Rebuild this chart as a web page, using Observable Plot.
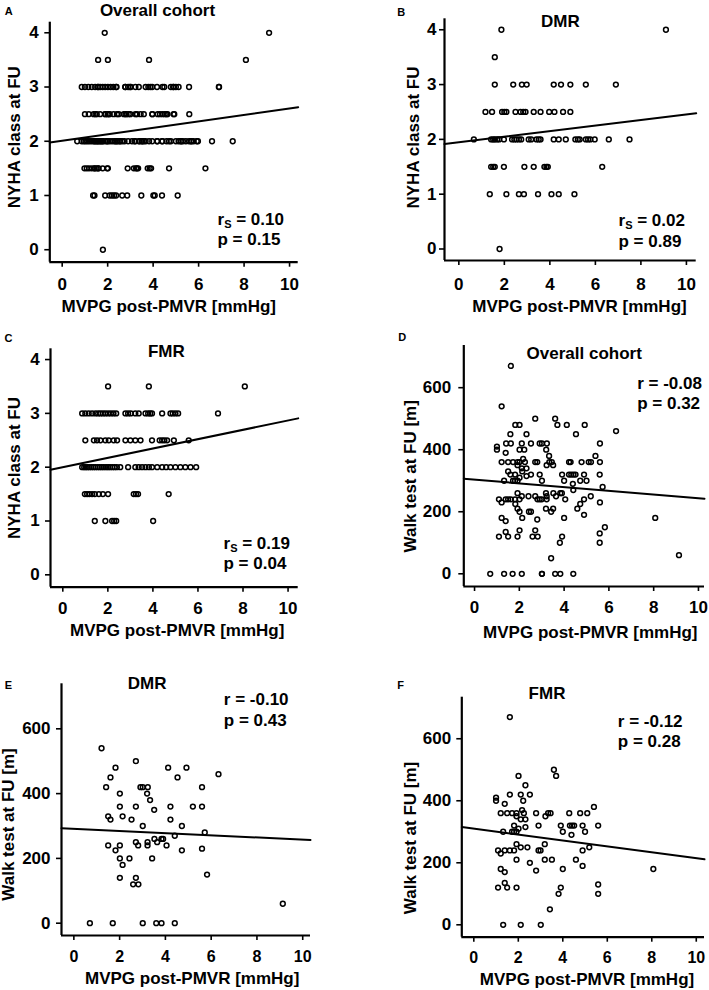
<!DOCTYPE html>
<html><head><meta charset="utf-8">
<script src="https://cdn.jsdelivr.net/npm/d3@7"></script>
<script src="https://cdn.jsdelivr.net/npm/@observablehq/plot@0.6"></script>
<style>
html,body{margin:0;padding:0;background:#fff;}
#page{position:relative;width:709px;height:990px;overflow:hidden;background:#fff;}
#page svg{position:absolute;overflow:visible;}
</style></head><body><div id="page"></div>
<script>
// ---------- DATA ----------
const xTicks = [0, 2, 4, 6, 8, 10];
const nyhaTicks = [0, 1, 2, 3, 4];
const walkTicks = [0, 200, 400, 600];
const panelLetters = ["A", "B", "C", "D", "E", "F"];
const panelTitles = ["Overall cohort", "DMR", "FMR", "Overall cohort", "DMR", "FMR"];
const xAxisLabel = "MVPG post-PMVR [mmHg]";
const yAxisLabels = ["NYHA class at FU", "NYHA class at FU", "NYHA class at FU", "Walk test at FU [m]", "Walk test at FU [m]", "Walk test at FU [m]"];
const statLines1 = ["rS = 0.10", "rS = 0.02", "rS = 0.19", "r = -0.08", "r = -0.10", "r = -0.12"];
const statLines2 = ["p = 0.15", "p = 0.89", "p = 0.04", "p = 0.32", "p = 0.43", "p = 0.28"];
// fitted regression lines [intercept, slope]
const fitIntercepts = [2.01, 1.946, 2.0, 303.5, 291.3, 310];
const fitSlopes = [0.0595, 0.051, 0.0868, -5.98, -3.32, -9.53];

// DMR: [MVPG, NYHA class]
const dmrNyha = [
 [1.87,4],[9.1,4],
 [1.58,3.5],
 [1.58,3],[2.39,3],[2.77,3],[2.98,3],[4.17,3],[4.49,3],[4.9,3],[5.58,3],[6.9,3],
 [1.17,2.5],[1.46,2.5],[1.9,2.5],[2.0,2.5],[2.09,2.5],[2.49,2.5],[2.71,2.5],[2.83,2.5],[2.93,2.5],[3.29,2.5],[3.59,2.5],[3.97,2.5],[4.2,2.5],[4.58,2.5],[4.9,2.5],
 [0.66,2],[1.42,2],[1.51,2],[1.58,2],[1.68,2],[1.77,2],[1.98,2],[2.34,2],[2.44,2],[2.53,2],[2.64,2],[2.74,2],[3.07,2],[3.18,2],[3.41,2],[3.51,2],[3.59,2],[4.17,2],[4.39,2],[4.7,2],[5.12,2],[5.23,2],[5.31,2],[5.58,2],[5.68,2],[5.78,2],[5.97,2],[6.59,2],[7.5,2],
 [1.42,1.5],[1.51,1.5],[1.58,1.5],[1.98,1.5],[2.88,1.5],[3.29,1.5],[3.76,1.5],[3.85,1.5],[3.91,1.5],[6.3,1.5],
 [1.36,1],[2.09,1],[2.64,1],[2.86,1],[3.48,1],[4.07,1],[4.39,1],[5.08,1],
 [1.79,0]
];
// FMR: [MVPG, NYHA class]
const fmrNyha = [
 [2.01,3.5],[3.82,3.5],[8.08,3.5],
 [0.86,3],[1.0,3],[1.15,3],[1.3,3],[1.45,3],[1.57,3],[1.67,3],[1.78,3],[1.89,3],[2.01,3],[2.13,3],[2.25,3],[2.37,3],[2.78,3],[2.9,3],[3.02,3],[3.22,3],[3.37,3],[3.67,3],[3.79,3],[3.88,3],[3.96,3],[4.41,3],[4.78,3],[4.88,3],[5.0,3],[5.12,3],[6.89,3],
 [1.0,2.5],[1.38,2.5],[1.52,2.5],[1.67,2.5],[1.89,2.5],[2.04,2.5],[2.26,2.5],[2.41,2.5],[2.78,2.5],[3.0,2.5],[3.22,2.5],[3.45,2.5],[3.96,2.5],[4.3,2.5],[4.41,2.5],[4.51,2.5],[4.63,2.5],[4.93,2.5],[5.59,2.5],
 [0.86,2],[0.95,2],[1.02,2],[1.1,2],[1.18,2],[1.27,2],[1.36,2],[1.45,2],[1.55,2],[1.64,2],[1.73,2],[1.82,2],[1.92,2],[2.01,2],[2.1,2],[2.2,2],[2.3,2],[2.4,2],[2.55,2],[2.9,2],[3.22,2],[3.37,2],[3.52,2],[3.67,2],[3.82,2],[3.96,2],[4.19,2],[4.41,2],[4.59,2],[4.78,2],[5.0,2],[5.22,2],[5.44,2],[5.67,2],[5.92,2],
 [0.98,1.5],[1.08,1.5],[1.18,1.5],[1.3,1.5],[1.42,1.5],[1.6,1.5],[1.78,1.5],[2.01,1.5],[3.15,1.5],[3.25,1.5],[3.34,1.5],[4.7,1.5],
 [1.42,1],[1.89,1],[2.19,1],[2.28,1],[2.37,1],[4.01,1]
];
// DMR: [MVPG, walk test m]
const dmrWalk = [
 [1.21,540],[2.71,500],[1.82,480],[1.60,450],[4.12,480],[4.92,480],[4.53,450],[6.32,460],[1.41,420],[2.91,420],[3.01,420],[3.23,420],
 [3.20,400],[2.01,400],[3.33,380],[5.60,420],[2.01,360],[2.71,360],[4.22,360],[5.20,360],[5.60,360],[3.51,350],[1.50,330],[1.60,320],
 [2.13,330],[2.52,320],[4.22,320],[3.01,300],[4.72,300],[5.72,280],[3.52,260],[3.64,250],[3.83,260],[3.90,260],[4.41,270],[2.71,250],
 [2.81,240],[3.22,250],[3.22,240],[4.05,240],[1.50,240],[2.01,240],[1.82,225],[4.72,225],[5.60,230],[2.01,200],[2.43,200],[3.42,200],
 [2.13,180],[5.82,150],[2.01,140],[2.71,140],[2.59,120],[2.82,120],[9.13,60],[0.70,0],[1.70,0],[3.01,0],[3.60,0],[3.83,0],[4.41,0]
];
// FMR: [MVPG, walk test m]
const fmrWalk = [
 [1.62,670],[3.60,500],[3.70,480],[2.01,480],[2.32,450],[1.62,420],[2.11,420],[2.52,420],[2.22,400],[1.0,410],[1.0,400],[1.39,390],
 [1.21,360],[1.5,360],[1.72,360],[1.92,360],[2.17,370],[2.25,360],[2.32,340],[1.92,350],[2.11,340],[1.81,320],[2.32,315],[2.01,310],
 [1.81,300],[1.92,300],[1.72,300],[2.80,360],[3.22,350],[3.34,360],[3.45,360],[2.91,320],[1.32,300],[1.92,260],[2.11,250],[2.41,250],
 [1.09,240],[1.21,230],[1.39,240],[1.62,240],[1.81,240],[2.91,240],[3.0,240],[3.19,260],[3.91,320],[4.0,300],[4.29,360],[4.39,290],
 [4.32,320],[4.42,320],[4.51,320],[4.78,360],[5.1,360],[4.89,320],[5.0,300],[5.40,380],[5.59,320],[5.19,250],[4.89,240],[4.59,210],
 [4.89,190],[1.92,210],[2.52,200],[1.21,180],[1.39,170],[2.80,175],[3.19,210],[3.51,210],[4.0,180],[1.09,120],[1.39,135],[1.5,120],
 [1.92,120],[3.91,120],[3.81,100],[5.59,130],[5.59,100],[3.42,50],[8.07,180],[1.32,0],[2.11,0],[3.01,0]
];

// ---------- LAYOUT ----------
const panelData = [dmrNyha.concat(fmrNyha), dmrNyha, fmrNyha, dmrWalk.concat(fmrWalk), dmrWalk, fmrWalk];
const yTickSets = [nyhaTicks, nyhaTicks, nyhaTicks, walkTicks, walkTicks, walkTicks];
const layout = [
 {cell:[0,0,354,325], frame:[49.3,21.7,297.7,261.7], xd:[-0.545,10.38], yd:[-0.23,4.195], yPad:6, xPad:10.8, xfs:17,
  letter:[8.3,14], title:[157,15], yLab:[13.3,136.7], xLab:[168.3,311], stats:[217,224.3,244.3]},
 {cell:[354,0,355,325], frame:[444,18.3,695.7,260], xd:[-0.63,10.43], yd:[-0.21,4.2], yPad:3, xPad:12.3, xfs:17,
  letter:[400.7,15], title:[559.8,26], yLab:[412.3,137], xLab:[579,311.5], stats:[618,225,246]},
 {cell:[0,325,354,325], frame:[50,348.3,297.7,586.7], xd:[-0.546,10.45], yd:[-0.23,4.2], yPad:5.7, xPad:9.8, xfs:17,
  letter:[8,341.7], title:[165.8,356.7], yLab:[13.3,467.5], xLab:[176.7,635.5], stats:[223,548.3,568.3]},
 {cell:[354,325,355,325], frame:[463.3,345,704,586], xd:[-0.48,10.27], yd:[-41,736], yPad:7.6, xPad:9, xfs:17,
  letter:[401.7,340], title:[583.7,358.3], yLab:[409,475.8], xLab:[589.8,637], stats:[636.7,388.3,408.3]},
 {cell:[0,650,354,340], frame:[61,683.3,310,935], xd:[-0.54,10.34], yd:[-38,739], yPad:6, xPad:10.5, xfs:16,
  letter:[7.8,688.3], title:[146.7,688.3], yLab:[7,824], xLab:[191.7,983], stats:[223.3,704,725]},
 {cell:[354,650,355,340], frame:[461.3,696.7,704,936.7], xd:[-0.54,10.37], yd:[-40,734], yPad:5.6, xPad:9.5, xfs:16,
  letter:[400.2,688.3], title:[546.5,698.3], yLab:[409,837.5], xLab:[586.5,984.5], stats:[617.3,726.7,746.7]}
];

const FONT = "'Liberation Sans', Arial, Helvetica, sans-serif";
const page = document.getElementById("page");

layout.forEach((L, i) => {
  const [cx, cy, cw, ch] = L.cell;
  const [fl, ft, fr, fb] = L.frame;
  const txt = (s, px, base, fs, anchor) => Plot.text([s], {
    text: d => d, frameAnchor: "top-left", dx: px - fl, dy: base - 0.32 * fs - ft,
    fontSize: fs, fontWeight: "bold", textAnchor: anchor, lineAnchor: "middle", fill: "#000"
  });
  const pts = panelData[i].map(([x, y]) => ({x, y}));
  const fitPts = L.xd.map(x => ({x, y: fitIntercepts[i] + fitSlopes[i] * x}));
  const svg = Plot.plot({
    width: cw, height: ch,
    marginLeft: fl - cx, marginTop: ft - cy, marginRight: cx + cw - fr, marginBottom: cy + ch - fb,
    x: {domain: L.xd}, y: {domain: L.yd},
    style: {fontFamily: FONT, fontWeight: "bold", fontSize: "17px", color: "#000", background: "transparent", overflow: "visible"},
    marks: [
      Plot.axisX(xTicks, {tickSize: 5, tickPadding: L.xPad, fontSize: L.xfs, fontWeight: "bold", strokeWidth: 1.6, label: null, tickFormat: d => String(d), stroke: "#000", fill: "#000"}),
      Plot.axisY(yTickSets[i], {tickSize: 5, tickPadding: L.yPad, fontSize: 17, fontWeight: "bold", strokeWidth: 1.6, label: null, tickFormat: d => String(d), stroke: "#000", fill: "#000"}),
      Plot.ruleX([L.xd[0]], {stroke: "#000", strokeWidth: 2.2}),
      Plot.ruleY([L.yd[0]], {stroke: "#000", strokeWidth: 2.2}),
      Plot.dot(pts, {x: "x", y: "y", r: 2.4, stroke: "#000", strokeWidth: 1.5, fill: "none"}),
      Plot.line(fitPts, {x: "x", y: "y", stroke: "#000", strokeWidth: 2}),
      txt(panelLetters[i], L.letter[0], L.letter[1], 11, "middle"),
      txt(panelTitles[i], L.title[0], L.title[1], 17, "middle"),
      txt(xAxisLabel, L.xLab[0], L.xLab[1], 17, "middle"),
      Plot.text([yAxisLabels[i]], {text: d => d, frameAnchor: "top-left", dx: L.yLab[0] + 0.65 - fl, dy: L.yLab[1] - ft,
        rotate: -90, fontSize: 17, fontWeight: "bold", textAnchor: "middle", lineAnchor: "middle", fill: "#000"}),
      txt(statLines1[i], L.stats[0], L.stats[1], 17, "start"),
      txt(statLines2[i], L.stats[0], L.stats[2], 17, "start")
    ]
  });
  // subscript S in "rS"
  svg.querySelectorAll("text").forEach(t => {
    const s = t.textContent;
    if (s.startsWith("rS")) {
      const ns = "http://www.w3.org/2000/svg";
      t.textContent = "";
      const a = document.createElementNS(ns, "tspan"); a.textContent = "r";
      const b = document.createElementNS(ns, "tspan"); b.textContent = "S";
      b.setAttribute("font-size", "11"); b.setAttribute("dy", "3");
      const c = document.createElementNS(ns, "tspan"); c.textContent = s.slice(2); c.setAttribute("dy", "-3");
      t.append(a, b, c);
    }
  });
  svg.style.left = cx + "px";
  svg.style.top = cy + "px";
  page.appendChild(svg);
});
</script>
</body></html>
